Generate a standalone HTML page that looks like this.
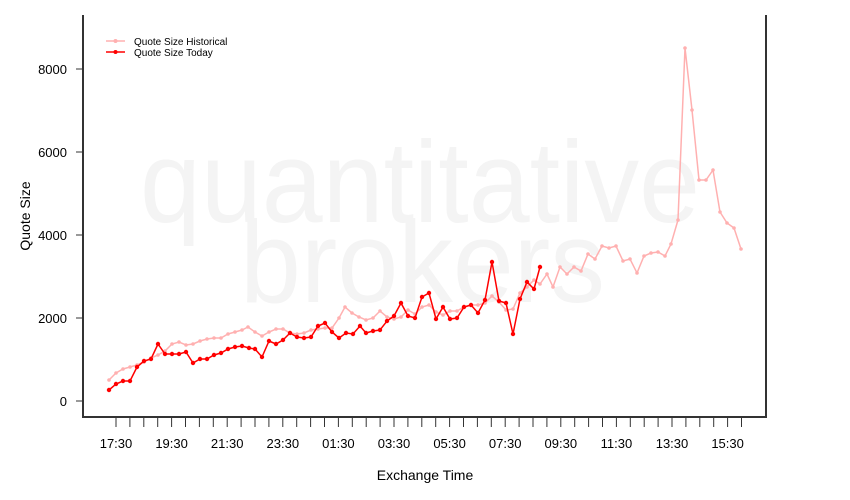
<!DOCTYPE html>
<html><head><meta charset="utf-8"><style>
html,body{margin:0;padding:0;background:#fff;}
svg{display:block;font-family:"Liberation Sans",sans-serif;}
</style></head><body>
<svg width="850" height="500" viewBox="0 0 850 500" xmlns="http://www.w3.org/2000/svg">
<rect width="850" height="500" fill="#fff"/>
<g fill="#f4f4f4" font-size="116">
<text x="140" y="222" textLength="560" lengthAdjust="spacingAndGlyphs">quantitative</text>
<text x="240" y="302" textLength="365" lengthAdjust="spacingAndGlyphs">brokers</text>
</g>
<polyline fill="none" stroke="#ffb0b0" stroke-width="1.5" points="109,380 116,373 123,369 130,367 137,365 144,362 151,358 158,355 165,351 172,344 179,342 186,345 193,344 200,341 207,339 214,338 221,338 228,334 235,332 242,330 248,327 255,332 262,336 269,332 276,329 283,329 290,333 297,334 304,333 311,330 318,329 325,328 332,328 339,318 345,307 352,313 359,317 366,320 373,318 380,311 387,317 394,319 401,317 408,310 415,314 422,307 429,305 436,312 443,315 450,311 457,311 464,307 471,305 478,305 485,303 492,296 499,302 506,310 513,309 520,293 527,287 534,280 540,284 547,274 553,287 560,267 567,274 574,267 581,271 588,254 595,259 602,246 609,248 616,246 623,261 630,259 637,273 644,256 651,253 658,252 665,256 671,244 678,220 685,48 692,110 699,180 706,180 713,170 720,212 727,223 734,228 741,249"/>
<g fill="#ffb0b0" id="hp"></g>
<polyline fill="none" stroke="#ff0000" stroke-width="1.5" points="109,390 116,384 123,381 130,381 137,367 144,361 151,359 158,344 165,354 172,354 179,354 186,352 193,363 200,359 207,359 214,355 221,353 228,349 235,347 242,346 249,348 255,349 262,357 269,341 276,344 283,340 290,333 297,337 304,338 311,337 318,326 325,323 332,332 339,338 346,333 353,334 360,326 366,333 373,331 380,330 387,321 394,316 401,303 408,316 415,318 422,297 429,293 436,319 443,307 450,319 457,318 464,307 471,305 478,313 485,300 492,262 499,301 506,303 513,334 520,299 527,282 534,289 540,267"/>
<g id="rp"></g>
<g stroke="#333" stroke-width="2" fill="none">
<polyline points="83,15 83,417 766,417 766,15"/>
</g>
<g stroke="#333" stroke-width="1">
<line x1="76" y1="401" x2="83" y2="401"/><line x1="76" y1="318" x2="83" y2="318"/>
<line x1="76" y1="235" x2="83" y2="235"/><line x1="76" y1="152" x2="83" y2="152"/>
<line x1="76" y1="69" x2="83" y2="69"/>
</g>
<g font-size="13" text-anchor="end" fill="#000">
<text x="67" y="406">0</text><text x="67" y="323">2000</text><text x="67" y="240">4000</text>
<text x="67" y="157">6000</text><text x="67" y="74">8000</text>
</g>
<g id="xt" stroke="#333" stroke-width="1"></g>
<g font-size="13" text-anchor="middle" fill="#000" id="xl"></g>
<text x="425" y="480" font-size="14" text-anchor="middle">Exchange Time</text>
<text transform="translate(30,216) rotate(-90)" font-size="14" text-anchor="middle">Quote Size</text>
<line x1="106" y1="41" x2="125" y2="41" stroke="#ffb0b0" stroke-width="1.5"/>
<circle cx="115.5" cy="41" r="2" fill="#ffb0b0"/>
<line x1="106" y1="52" x2="125" y2="52" stroke="#ff0000" stroke-width="1.5"/>
<circle cx="115.5" cy="52" r="2" fill="#ff0000"/>
<text x="134" y="45" font-size="10">Quote Size Historical</text>
<text x="134" y="56" font-size="10">Quote Size Today</text>
<script>
(function(){
var ns="http://www.w3.org/2000/svg";
function dots(pl,g,r,c){var pts=pl.getAttribute("points").trim().split(/\s+/);pts.forEach(function(p){var a=p.split(",");var ci=document.createElementNS(ns,"circle");ci.setAttribute("cx",a[0]);ci.setAttribute("cy",a[1]);ci.setAttribute("r",r);ci.setAttribute("fill",c);g.appendChild(ci);});}
var pls=document.querySelectorAll("polyline");
dots(pls[0],document.getElementById("hp"),1.8,"#ffb0b0");
dots(pls[1],document.getElementById("rp"),2.2,"#ff0000");
var xt=document.getElementById("xt"),xl=document.getElementById("xl");
var labels=["17:30","19:30","21:30","23:30","01:30","03:30","05:30","07:30","09:30","11:30","13:30","15:30"];
for(var i=0;i<46;i++){var x=116+i*13.9;var l=document.createElementNS(ns,"line");l.setAttribute("x1",x);l.setAttribute("x2",x);l.setAttribute("y1",418);l.setAttribute("y2",427);xt.appendChild(l);
if(i%4==0&&i/4<12){var t=document.createElementNS(ns,"text");t.setAttribute("x",x);t.setAttribute("y",448);t.textContent=labels[i/4];xl.appendChild(t);}}
})();
</script>
</svg>
</body></html>
